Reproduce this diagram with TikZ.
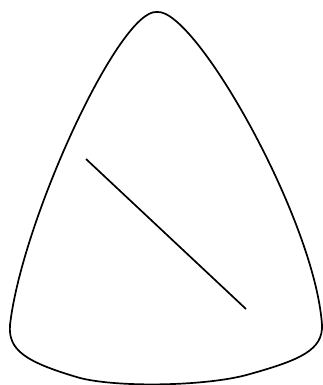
\documentclass[tikz,border=0pt]{standalone}
\begin{document}
\begin{tikzpicture}[x=1pt,y=-1pt,outline/.style={line width=1.7pt,line join=round}]
\useasboundingbox (0,0) rectangle (323,385);
\draw[outline] (157,12) .. controls (120,8) and (22,220) .. (10,325)
 .. controls (8,350) and (25,362) .. (80,378)
 .. controls (120,388) and (210,386) .. (250,374)
 .. controls (300,360) and (323,350) .. (322,325)
 .. controls (315,220) and (195,8) .. cycle;
\coordinate (a) at (86,159);
\coordinate (b) at (246,309);
\draw[outline] (a) -- (b);
\end{tikzpicture}
\end{document}
